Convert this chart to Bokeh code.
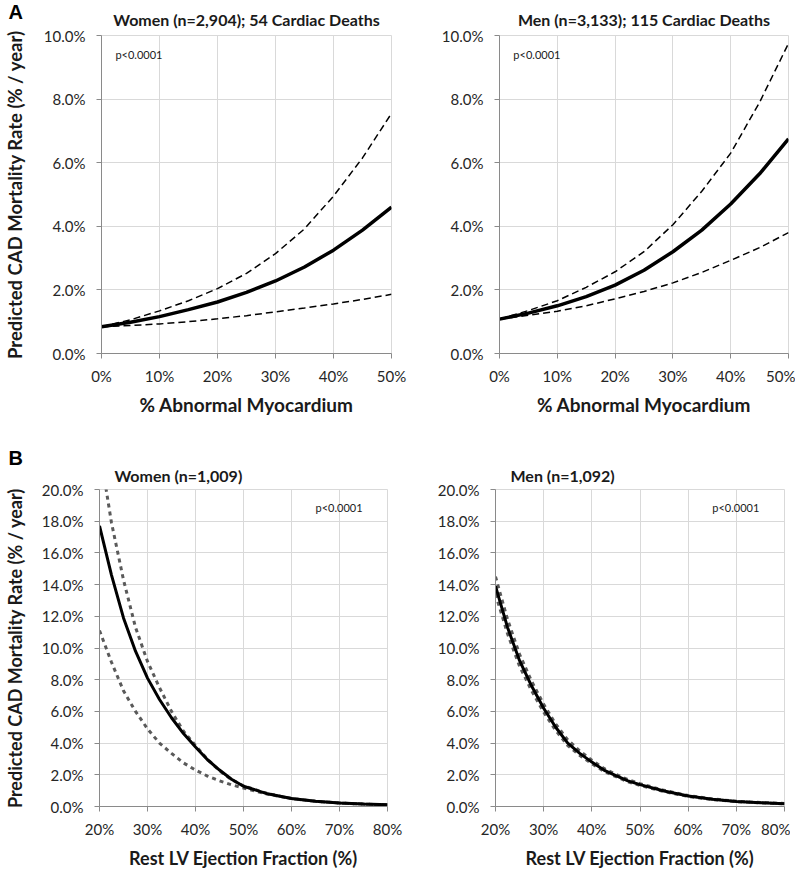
from bokeh.plotting import figure
from bokeh.models import Range1d, PrintfTickFormatter, FixedTicker, Label
from bokeh.layouts import row, column
from bokeh.embed import file_html
from bokeh.resources import INLINE

# ---------------- data ----------------
abn_pct = [0, 5, 10, 15, 20, 25, 30, 35, 40, 45, 50]
women_a_est = [0.84, 0.98, 1.16, 1.38, 1.62, 1.92, 2.28, 2.72, 3.25, 3.88, 4.6]
women_a_hi = [0.84, 1.06, 1.34, 1.66, 2.04, 2.52, 3.14, 3.92, 4.95, 6.15, 7.55]
women_a_lo = [0.84, 0.88, 0.93, 1.0, 1.09, 1.19, 1.31, 1.43, 1.56, 1.7, 1.86]
men_a_est = [1.08, 1.27, 1.5, 1.79, 2.15, 2.62, 3.2, 3.88, 4.7, 5.65, 6.75]
men_a_hi = [1.08, 1.35, 1.66, 2.08, 2.57, 3.2, 4.05, 5.1, 6.3, 7.9, 9.75]
men_a_lo = [1.08, 1.2, 1.33, 1.5, 1.72, 1.95, 2.22, 2.55, 2.93, 3.33, 3.8]

ef_pct = [20, 22.5, 25, 27.5, 30, 32.5, 35, 37.5, 40, 42.5, 45, 47.5, 50, 55, 60, 65, 70, 75, 80]
women_b_est = [17.7, 14.6, 11.9, 9.8, 8.1, 6.75, 5.6, 4.6, 3.75, 2.95, 2.3, 1.72, 1.28, 0.8, 0.5, 0.33, 0.22, 0.15, 0.11]
women_b_hi = [22.6, 17.9, 14.3, 11.3, 9.15, 7.5, 6.0, 4.75, 3.85, 2.98, 2.25, 1.7, 1.3, 0.82, 0.5, 0.33, 0.22, 0.15, 0.11]
women_b_lo = [11.1, 9.1, 7.3, 6.0, 4.9, 4.0, 3.35, 2.75, 2.3, 1.92, 1.62, 1.37, 1.17, 0.78, 0.5, 0.33, 0.22, 0.15, 0.11]
men_b_est = [13.9, 11.3, 9.2, 7.6, 6.2, 5.0, 4.0, 3.35, 2.8, 2.3, 1.95, 1.62, 1.38, 0.98, 0.66, 0.46, 0.32, 0.24, 0.18]
men_b_hi = [14.5, 11.8, 9.6, 7.9, 6.45, 5.2, 4.2, 3.5, 2.92, 2.4, 2.03, 1.69, 1.44, 1.02, 0.69, 0.48, 0.33, 0.25, 0.19]
men_b_lo = [13.4, 10.9, 8.85, 7.3, 5.95, 4.8, 3.85, 3.22, 2.7, 2.22, 1.88, 1.56, 1.33, 0.94, 0.63, 0.44, 0.31, 0.23, 0.17]

a_xticks = [0, 10, 20, 30, 40, 50]
a_yticks = [0, 2, 4, 6, 8, 10]
b_xticks = [20, 30, 40, 50, 60, 70, 80]
b_yticks = [0, 2, 4, 6, 8, 10, 12, 14, 16, 18, 20]

title_a_w = "Women (n=2,904); 54 Cardiac Deaths"
title_a_m = "Men (n=3,133); 115 Cardiac Deaths"
title_b_w = "Women (n=1,009)"
title_b_m = "Men (n=1,092)"
ylab = "Predicted CAD Mortality Rate (% / year)"
xlab_a = "% Abnormal Myocardium"
xlab_b = "Rest LV Ejection Fraction (%)"
pval = "p<0.0001"
panel_a = "A"
panel_b = "B"

FONT = "Lato"
AXC = "#8a8a8a"
GRID = "#d9d9d9"


def make_fig(fw, fh, bl, br, bt, bb, xr, yr, xt, yt, xfmt, yfmt):
    p = figure(frame_width=fw, frame_height=fh,
               min_border_left=bl, min_border_right=br,
               min_border_top=bt, min_border_bottom=bb,
               x_range=Range1d(*xr), y_range=Range1d(*yr),
               output_backend="svg", toolbar_location=None, tools="")
    p.outline_line_color = GRID
    p.background_fill_color = "white"
    p.border_fill_color = "white"
    p.xgrid.grid_line_color = GRID
    p.ygrid.grid_line_color = GRID
    p.xaxis.ticker = FixedTicker(ticks=xt)
    p.yaxis.ticker = FixedTicker(ticks=yt)
    p.xaxis.formatter = PrintfTickFormatter(format=xfmt)
    p.yaxis.formatter = PrintfTickFormatter(format=yfmt)
    for ax in (p.xaxis, p.yaxis):
        ax.axis_line_color = AXC
        ax.major_tick_line_color = AXC
        ax.major_tick_out = 5
        ax.major_tick_in = 0
        ax.minor_tick_line_color = None
        ax.major_label_text_font = FONT
        ax.major_label_text_font_size = "15px"
        ax.major_label_text_color = "#262626"
        ax.axis_label_text_font = FONT
        ax.axis_label_text_font_style = "bold"
        ax.axis_label_text_color = "#1a1a1a"
    p.xaxis.major_label_standoff = 8
    p.yaxis.major_label_standoff = 11
    p.title.text_font = FONT
    p.title.text_font_size = "16px"
    p.title.text_font_style = "bold"
    p.title.text_color = "#1a1a1a"
    return p


def letter(txt, y):
    return Label(x=8, y=y, x_units="canvas", y_units="canvas", text=txt,
                 text_font="Liberation Sans", text_font_style="bold", text_font_size="20px",
                 text_color="black", text_baseline="top", text_align="left")


# ---------------- Panel A ----------------
pa1 = make_fig(290, 318, 97, 20, 34, 87, (0, 50), (0, 10), a_xticks, a_yticks, "%d%%", "%.1f%%")
pa2 = make_fig(289, 318, 88, 7, 34, 87, (0, 50), (0, 10), a_xticks, a_yticks, "%d%%", "%.1f%%")

for p, est, hi, lo, title in ((pa1, women_a_est, women_a_hi, women_a_lo, title_a_w),
                              (pa2, men_a_est, men_a_hi, men_a_lo, title_a_m)):
    p.title.text = title
    p.title.align = "center"
    p.title.standoff = 14
    p.line(abn_pct, hi, line_color="black", line_width=1.5, line_dash="7 4")
    p.line(abn_pct, lo, line_color="black", line_width=1.5, line_dash="7 4")
    p.line(abn_pct, est, line_color="black", line_width=3.5)
    p.xaxis.axis_label = xlab_a
    p.xaxis.axis_label_text_font_size = "19px"
    p.xaxis.axis_label_standoff = 5
    p.add_layout(Label(x=2.4, y=9.4, text=pval, text_font=FONT, text_font_size="11px",
                       text_color="#1a1a1a", text_baseline="middle", text_align="left"))

pa1.yaxis.axis_label = ylab
pa1.yaxis.axis_label_text_font_size = "18.5px"
pa1.yaxis.axis_label_standoff = 15
pa1.add_layout(letter(panel_a, 0), "right")

# ---------------- Panel B ----------------
pb1 = make_fig(288, 317, 93, 27, 49, 57, (20, 80), (0, 20), b_xticks, b_yticks, "%d%%", "%.1f%%")
pb2 = make_fig(289, 317, 81, 6, 49, 57, (20, 80), (0, 20), b_xticks, b_yticks, "%d%%", "%.1f%%")

pb1.title.text = title_b_w
pb2.title.text = title_b_m
for p in (pb1, pb2):
    p.title.align = "left"
    p.title.offset = 15
    p.title.standoff = 10
    p.xaxis.axis_label = xlab_b
    p.xaxis.axis_label_text_font_size = "18px"
    p.xaxis.axis_label_standoff = 6
    p.add_layout(Label(x=65, y=18.86, text=pval, text_font=FONT, text_font_size="11px",
                       text_color="#1a1a1a", text_baseline="middle", text_align="left"))

pb1.line(ef_pct, women_b_hi, line_color="#5a5a5a", line_width=3, line_dash="4 4")
pb1.line(ef_pct, women_b_lo, line_color="#5a5a5a", line_width=3, line_dash="4 4")
pb1.line(ef_pct, women_b_est, line_color="black", line_width=3)

pb2.line(ef_pct, men_b_hi, line_color="#5a5a5a", line_width=3, line_dash="4 4")
pb2.line(ef_pct, men_b_lo, line_color="#5a5a5a", line_width=3, line_dash="4 4")
pb2.line(ef_pct, men_b_est, line_color="black", line_width=3)

pb1.yaxis.axis_label = ylab
pb1.yaxis.axis_label_text_font_size = "18px"
pb1.yaxis.axis_label_standoff = 13
pb1.add_layout(letter(panel_b, 6), "right")

layout = column(row(pa1, pa2), row(pb1, pb2))
open("out.html", "w").write(file_html(layout, INLINE))
